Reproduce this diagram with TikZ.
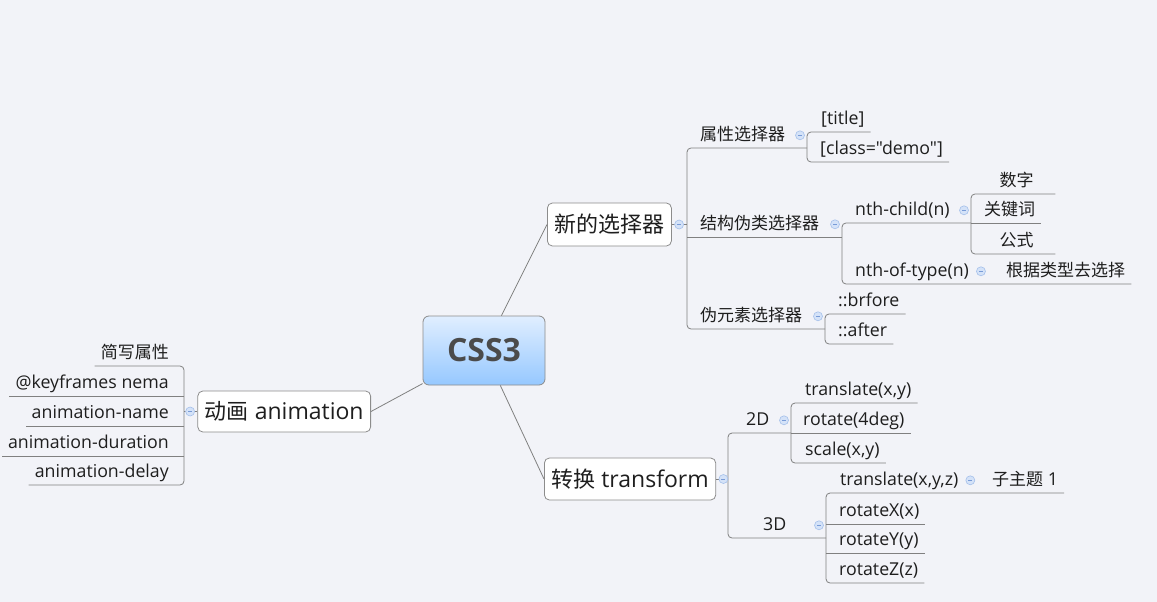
\documentclass[tikz,border=0pt]{standalone}
\usepackage{fontspec}
\newfontfamily\latin{Open Sans}[Scale = 1.045]
\newfontfamily\rootfont{Open Sans}
\newfontfamily\cjk{Noto Sans CJK SC}
\usetikzlibrary{
    positioning
}
\definecolor{paper}{RGB}{242,243,248}
\definecolor{linkgray}{RGB}{128,128,128}
\definecolor{boxgray}{RGB}{140,140,140}
\definecolor{ink}{RGB}{30,30,30}
\definecolor{foldfill}{RGB}{212,226,248}
\definecolor{foldline}{RGB}{165,192,234}
\definecolor{foldbar}{RGB}{120,155,215}
\definecolor{roottop}{RGB}{224,238,255}
\definecolor{rootbot}{RGB}{150,200,255}
\newcommand\leafsize{\fontsize{17pt}{20pt}\selectfont}
\newcommand\topicsize{\fontsize{22pt}{26pt}\selectfont}
\tikzset {
    link/.style = {draw = linkgray, line width = 0.8pt, rounded corners = 4pt},
    root/.style = {
        rounded corners = 6pt, draw = boxgray, line width = 0.8pt,
        top color = roottop, bottom color = rootbot,
        minimum width = 122pt, minimum height = 69pt,
        text = ink!80, font = \fontsize{32pt}{36pt}\selectfont\rootfont\bfseries
    },
    topic/.style = {
        rounded corners = 5pt, draw = boxgray, fill = white, line width = 0.8pt,
        text = ink, inner xsep = 7pt, font = \topicsize\latin
    },
    leaf/.style = {
        inner xsep = 6pt, inner ysep = 3.5pt,
        text height = 14pt, text depth = 4pt,
        text = ink, font = \leafsize\latin
    },
    fold/.style = {
        circle, draw = foldline, fill = foldfill, line width = 0.6pt,
        minimum size = 9pt, inner sep = 0pt,
        path picture = {
            \draw [foldbar, line width = 0.8pt]
            ([xshift = -2pt]path picture bounding box.center) -- ([xshift = 2pt]path picture bounding box.center);
        }
    }
}
\begin{document}
\begin{tikzpicture}[x = 1pt, y = -1pt]
    \fill [paper] (0, 0) rectangle (1157, 602);
    \useasboundingbox (0, 0) rectangle (1157, 602);
    % main topics
    \node (css) [root] at (484, 350.5) {CSS3};
    \node (sel) [topic, anchor = west, minimum height = 43pt] at (547, 224.5) {\cjk 新的选择器};
    \node (trans) [topic, anchor = west, minimum height = 42pt] at (544, 479) {{\cjk 转换} transform};
    \node (anim) [topic, anchor = east, minimum height = 41pt] at (371, 411.5) {{\cjk 动画} animation};
    % bracket columns
    \coordinate (bsel) at (687, 0);
    \coordinate (bpa) at (807, 0);
    \coordinate (bst) at (842, 0);
    \coordinate (bch) at (971, 0);
    \coordinate (bpe) at (825, 0);
    \coordinate (btr) at (728, 0);
    \coordinate (b2d) at (791, 0);
    \coordinate (b3d) at (826, 0);
    \coordinate (ban) at (184, 0);
    % selectors
    \node (pa) [leaf, anchor = south west] at (694, 148) {\cjk 属性选择器};
    \node (st) [leaf, anchor = south west] at (694, 237) {\cjk 结构伪类选择器};
    \node (pe) [leaf, anchor = south west] at (694, 329) {\cjk 伪元素选择器};
    \node (title) [leaf, anchor = south west] at (815, 132) {[title]};
    \node (demo) [leaf, anchor = south west] at (814, 162) {[class="demo"]};
    \node (child) [leaf, anchor = south west] at (849, 223) {nth-child(n)};
    \node (type) [leaf, anchor = south west] at (849, 284) {nth-of-type(n)};
    \node (num) [leaf, anchor = south west, minimum width = 77pt] at (978, 194) {\cjk 数字};
    \node (kw) [leaf, anchor = south west] at (978, 223) {\cjk 关键词};
    \node (fx) [leaf, anchor = south west, minimum width = 77pt] at (978, 254) {\cjk 公式};
    \node (bytype) [leaf, anchor = south west] at (1000, 284) {\cjk 根据类型去选择};
    \node (before) [leaf, anchor = south west] at (832, 314) {::brfore};
    \node (after) [leaf, anchor = south west] at (832, 344) {::after};
    % transform
    \node (twod) [leaf, anchor = south west] at (740, 433) {2D};
    \node (threed) [leaf, anchor = south west] at (757, 538) {3D};
    \node (tr) [leaf, anchor = south west] at (799, 403) {translate(x,y)};
    \node (rot) [leaf, anchor = south west] at (797, 433) {rotate(4deg)};
    \node (sc) [leaf, anchor = south west] at (799, 463) {scale(x,y)};
    \node (trz) [leaf, anchor = south west] at (834, 493) {translate(x,y,z)};
    \node (sub) [leaf, anchor = south west] at (986, 493) {{\cjk 子主题} 1};
    \node (rx) [leaf, anchor = south west] at (833, 524) {rotateX(x)};
    \node (ry) [leaf, anchor = south west] at (833, 553) {rotateY(y)};
    \node (rz) [leaf, anchor = south west] at (833, 583) {rotateZ(z)};
    % animation
    \node (short) [leaf, anchor = south east] at (175, 366) {\cjk 简写属性};
    \node (kf) [leaf, anchor = south east] at (175, 396) {@keyframes nema};
    \node (an) [leaf, anchor = south east] at (175, 426) {animation-name};
    \node (ad) [leaf, anchor = south east] at (175, 456) {animation-duration};
    \node (dl) [leaf, anchor = south east] at (175, 485) {animation-delay};
    % links
    \draw [link] (css) -- (sel.west);
    \draw [link] (css) -- (trans.west);
    \draw [link] (css) -- (anim.east);
    \draw [link] (sel.east) -- (bsel |- sel.east);
    \draw [link] (bpa |- pa.south) -- (bsel |- pa.south) -- (bsel |- pe.south) -- (bpe |- pe.south);
    \draw [link] (bsel |- st.south) -- (bst |- st.south);
    \draw [link] (title.south east) -- (bpa |- title.south) -- (bpa |- demo.south) -- (demo.south east);
    \draw [link] (bch |- child.south) -- (bst |- child.south) -- (bst |- type.south) -- (bytype.south east);
    \draw [link] (num.south east) -- (bch |- num.south) -- (bch |- fx.south) -- (fx.south east);
    \draw [link] (bch |- kw.south) -- (kw.south east);
    \draw [link] (before.south east) -- (bpe |- before.south) -- (bpe |- after.south) -- (after.south east);
    \draw [link] (trans.east) -- (btr |- trans.east);
    \draw [link] (b2d |- twod.south) -- (btr |- twod.south) -- (btr |- threed.south) -- (b3d |- threed.south);
    \draw [link] (tr.south east) -- (b2d |- tr.south) -- (b2d |- sc.south) -- (sc.south east);
    \draw [link] (b2d |- rot.south) -- (rot.south east);
    \draw [link] (sub.south east) -- (b3d |- trz.south) -- (b3d |- rz.south) -- (rz.south east);
    \draw [link] (b3d |- rx.south) -- (rx.south east);
    \draw [link] (b3d |- ry.south) -- (ry.south east);
    \draw [link] (anim.west) -- (ban |- anim.west);
    \draw [link] (short.south west) -- (ban |- short.south) -- (ban |- dl.south) -- (dl.south west);
    \foreach \n in {kf, an, ad} {
        \draw [link] (ban |- \n.south) -- (\n.south west);
    }
    % fold marks
    \node (selfold) [fold, right = 2.5pt of sel] {};
    \node (transfold) [fold, right = 2.5pt of trans] {};
    \node (animfold) [fold, left = 2.5pt of anim] {};
    \node (pafold) [fold, xshift = -7pt] at (bpa |- pa.east) {};
    \node (stfold) [fold, xshift = -7pt] at (bst |- st.east) {};
    \node (pefold) [fold, xshift = -7pt] at (bpe |- pe.east) {};
    \node (childfold) [fold, xshift = -7pt] at (bch |- child.east) {};
    \node (typefold) [fold, right = 1pt of type] {};
    \node (twodfold) [fold, xshift = -7pt] at (b2d |- twod.east) {};
    \node (threedfold) [fold, xshift = -7pt] at (b3d |- threed.east) {};
    \node (trzfold) [fold, right = 1pt of trz] {};
\end{tikzpicture}
\end{document}
